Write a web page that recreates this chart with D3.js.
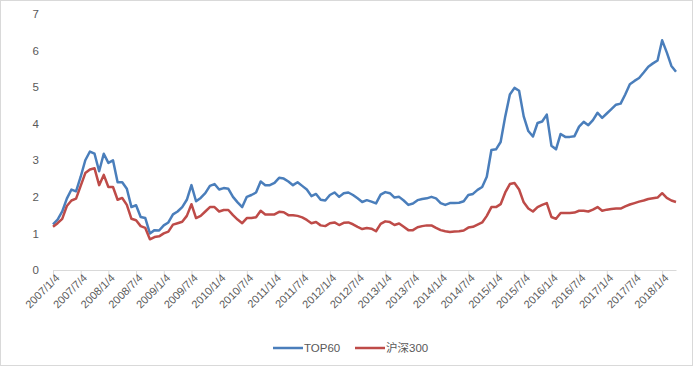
<!DOCTYPE html>
<html>
<head>
<meta charset="utf-8">
<script src="https://cdn.jsdelivr.net/npm/d3@7"></script>
<style>
  body { margin: 0; background: #fff; }
  svg { display: block; font-family: "Liberation Sans", "Noto Sans CJK SC", sans-serif; }
</style>
</head>
<body>
<script>
'use strict';

// monthly categories, 2007/1/4 .. 2018/4/4
const months = [];
for (let y = 2007; y <= 2018; y++) {
	for (let m = 1; m <= 12; m++) {
		if (y === 2018 && m > 4) break;
		months.push(`${y}/${m}/4`);
	}
}

const tickLabels = [
	"2007/1/4", "2007/7/4", "2008/1/4", "2008/7/4", "2009/1/4", "2009/7/4",
	"2010/1/4", "2010/7/4", "2011/1/4", "2011/7/4", "2012/1/4", "2012/7/4",
	"2013/1/4", "2013/7/4", "2014/1/4", "2014/7/4", "2015/1/4", "2015/7/4",
	"2016/1/4", "2016/7/4", "2017/1/4", "2017/7/4", "2018/1/4"
];

const top60 = [
	1.25, 1.38, 1.60, 1.95, 2.20, 2.15, 2.55, 3.00, 3.24, 3.18, 2.70, 3.18,
	2.93, 3.00, 2.40, 2.40, 2.22, 1.72, 1.77, 1.45, 1.42, 1.00, 1.09, 1.08,
	1.22, 1.30, 1.52, 1.60, 1.72, 1.92, 2.32, 1.88, 1.97, 2.10, 2.30, 2.35,
	2.20, 2.24, 2.22, 2.00, 1.85, 1.72, 2.00, 2.05, 2.12, 2.42, 2.32, 2.32,
	2.38, 2.52, 2.50, 2.42, 2.32, 2.40, 2.30, 2.20, 2.02, 2.08, 1.92, 1.90,
	2.05, 2.12, 2.00, 2.10, 2.12, 2.05, 1.96, 1.86, 1.91, 1.87, 1.82, 2.06,
	2.13, 2.10, 1.98, 2.00, 1.90, 1.78, 1.82, 1.91, 1.94, 1.96, 2.00, 1.96,
	1.83, 1.78, 1.83, 1.83, 1.84, 1.88, 2.05, 2.08, 2.19, 2.27, 2.55, 3.28,
	3.30, 3.50, 4.20, 4.80, 4.98, 4.90, 4.20, 3.80, 3.65, 4.02, 4.06, 4.25,
	3.40, 3.30, 3.72, 3.64, 3.64, 3.66, 3.92, 4.05, 3.96, 4.10, 4.30, 4.16,
	4.28, 4.40, 4.52, 4.55, 4.80, 5.08, 5.17, 5.25, 5.40, 5.56, 5.65, 5.73,
	6.28, 5.95, 5.58, 5.42
];

const hs300 = [
	1.18, 1.28, 1.40, 1.75, 1.90, 1.95, 2.30, 2.65, 2.75, 2.78, 2.32, 2.60,
	2.27, 2.27, 1.92, 1.97, 1.78, 1.40, 1.36, 1.20, 1.15, 0.84, 0.90, 0.92,
	1.00, 1.05, 1.24, 1.28, 1.32, 1.48, 1.80, 1.42, 1.48, 1.60, 1.72, 1.72,
	1.60, 1.64, 1.64, 1.50, 1.38, 1.28, 1.42, 1.42, 1.44, 1.62, 1.52, 1.52,
	1.52, 1.59, 1.58, 1.50, 1.50, 1.48, 1.44, 1.37, 1.28, 1.31, 1.22, 1.20,
	1.28, 1.30, 1.23, 1.29, 1.30, 1.25, 1.18, 1.12, 1.15, 1.13, 1.06, 1.26,
	1.33, 1.31, 1.23, 1.27, 1.18, 1.09, 1.09, 1.17, 1.20, 1.22, 1.22, 1.15,
	1.09, 1.06, 1.04, 1.05, 1.06, 1.08, 1.16, 1.18, 1.24, 1.30, 1.48, 1.72,
	1.72, 1.80, 2.12, 2.35, 2.38, 2.20, 1.85, 1.68, 1.60, 1.72, 1.78, 1.83,
	1.45, 1.40, 1.56, 1.56, 1.56, 1.57, 1.62, 1.62, 1.60, 1.65, 1.72, 1.62,
	1.65, 1.67, 1.68, 1.68, 1.74, 1.79, 1.83, 1.87, 1.90, 1.94, 1.96, 1.98,
	2.10, 1.97, 1.90, 1.86
];

const yTicks = [0, 1, 2, 3, 4, 5, 6, 7];

const params = { width: 693, height: 366, left: 53, right: 676, top: 14, bottom: 270 };

const svg = d3.select("body").append("svg")
	.attr("width", params.width)
	.attr("height", params.height);

svg.append("rect")
	.attr("x", 0.5).attr("y", 0.5)
	.attr("width", params.width - 1).attr("height", params.height - 1)
	.attr("fill", "#fff")
	.attr("stroke", "#d9d9d9");

const xScale = d3.scalePoint()
	.domain(months)
	.range([params.left, params.right]);

const yScale = d3.scaleLinear()
	.domain([0, 7])
	.range([params.bottom, params.top]);

// y axis, labels only
const yAxis = svg.append("g")
	.attr("transform", `translate(${params.left}, 0)`)
	.call(d3.axisLeft(yScale).tickValues(yTicks).tickFormat(d3.format("d")).tickSize(0).tickPadding(14));
yAxis.select(".domain").remove();
yAxis.selectAll("text")
	.attr("fill", "#595959")
	.attr("font-size", "11.5px");

// x axis
const xAxis = svg.append("g")
	.attr("transform", `translate(0, ${params.bottom})`)
	.call(d3.axisBottom(xScale).tickValues(tickLabels).tickSize(5).tickSizeOuter(0));
xAxis.select(".domain").attr("stroke", "#d9d9d9");
xAxis.selectAll(".tick line").attr("stroke", "#d9d9d9");
xAxis.selectAll(".tick text")
	.attr("fill", "#595959")
	.attr("font-size", "11px")
	.attr("text-anchor", "end")
	.attr("transform", "translate(4, 6) rotate(-45)")
	.attr("x", 0)
	.attr("y", 0)
	.attr("dy", "0.35em");

const series = [
	{ name: "TOP60", values: top60, color: "#4a7ebb" },
	{ name: "沪深300", values: hs300, color: "#be4b48" }
];

const line = d3.line()
	.x((d, i) => xScale(months[i]))
	.y(d => yScale(d));

series.forEach(s => {
	svg.append("path")
		.attr("d", line(s.values))
		.attr("fill", "none")
		.attr("stroke", s.color)
		.attr("stroke-width", 2.5)
		.attr("stroke-linejoin", "round");
});

// legend
const legendX = [273, 355];
const legend = svg.append("g");
series.forEach((s, i) => {
	legend.append("line")
		.attr("x1", legendX[i]).attr("x2", legendX[i] + 30)
		.attr("y1", 348).attr("y2", 348)
		.attr("stroke", s.color)
		.attr("stroke-width", 2.5);
	legend.append("text")
		.attr("x", legendX[i] + 31)
		.attr("y", 348)
		.attr("dy", "0.35em")
		.attr("font-size", "11.5px")
		.attr("fill", "#595959")
		.text(s.name);
});
</script>
</body>
</html>
